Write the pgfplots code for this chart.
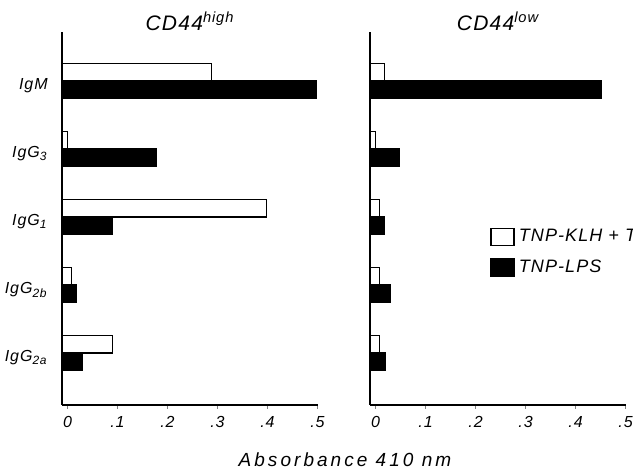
\documentclass[border=0pt]{standalone}
\usepackage{fontspec}
\setmainfont{Liberation Sans}[LetterSpace=6]
\newfontfamily\widefont{Liberation Sans}[LetterSpace=16]
\usepackage{pgfplots}
\pgfplotsset{compat=1.18}

% one panel of the figure; bars are drawn from the axis line, ticks sit a bit to the right
\pgfplotsset{
  panel/.style={
    at={(#1,33pt)}, anchor=south west,
    scale only axis, width=128pt, height=186.5pt,
    xmin=0, xmax=0.512, ymin=0.235, ymax=5.72,
    axis x line=bottom, axis y line=left,
    axis line style={-, line width=1pt},
    x filter/.expression={x+0.011},
    xtick={0.011,0.111,0.211,0.311,0.411,0.511},
    xticklabels={0,.1,.2,.3,.4,.5},
    tick align=outside, major tick length=2pt,
    xtick style={line width=0.6pt},
    xticklabel style={anchor=base, yshift=-9.5pt, inner sep=0pt,
      font=\itshape\fontsize{8}{9}\selectfont},
    xbar, bar width=0.26,
    title style={at={(0.5,1)}, anchor=base, yshift=-5pt,
      font=\itshape\fontsize{10.5}{12}\selectfont},
  },
  white bar/.style={draw=black, fill=white, line width=0.7pt, bar shift=0.13},
  black bar/.style={draw=black, fill=black, line width=0.7pt, bar shift=-0.13},
}

\begin{document}
\begin{tikzpicture}
% CD44 high
\begin{axis}[
    panel=31pt,
    title={CD44\textsuperscript{high}},
    ytick={1,2,3,4,5},
    yticklabels={IgG\textsubscript{2a}, IgG\textsubscript{2b}, IgG\textsubscript{1}, IgG\textsubscript{3}, IgM},
    ytick style={draw=none},
    yticklabel style={anchor=base east, inner sep=0pt, xshift=-5pt, yshift=-4.5pt,
      font=\itshape\fontsize{8}{9}\selectfont},
]
\addplot[white bar] coordinates {(0.09,1) (0.008,2) (0.398,3) (0.0,4) (0.288,5)};
\addplot[black bar] coordinates {(0.03,1) (0.018,2) (0.09,3) (0.178,4) (0.498,5)};
\end{axis}
% CD44 low
\begin{axis}[
    panel=185pt,
    title={CD44\textsuperscript{low}},
    ytick=\empty,
    legend style={at={(0.469,0.483)}, anchor=north west, draw=none, fill=none,
      inner sep=0pt, row sep=3.5pt,
      font=\itshape\fontsize{9}{10}\selectfont},
    legend cell align=left,
    legend image code/.code={\draw[#1] (0pt,-4.25pt) rectangle (11.5pt,4.25pt);},
]
\addplot[white bar] coordinates {(0.008,1) (0.008,2) (0.008,3) (0.0,4) (0.018,5)};
\addlegendentry{TNP-KLH + T}
\addplot[black bar] coordinates {(0.02,1) (0.03,2) (0.018,3) (0.048,4) (0.452,5)};
\addlegendentry{TNP-LPS}
\end{axis}
\node[anchor=base, font=\widefont\itshape\fontsize{9.5}{11}\selectfont] at (172.5pt,2pt) {Absorbance 410 nm};
\pgfresetboundingbox
\path[use as bounding box] (0,0) rectangle (316.5pt,235.5pt);
\end{tikzpicture}
\end{document}
